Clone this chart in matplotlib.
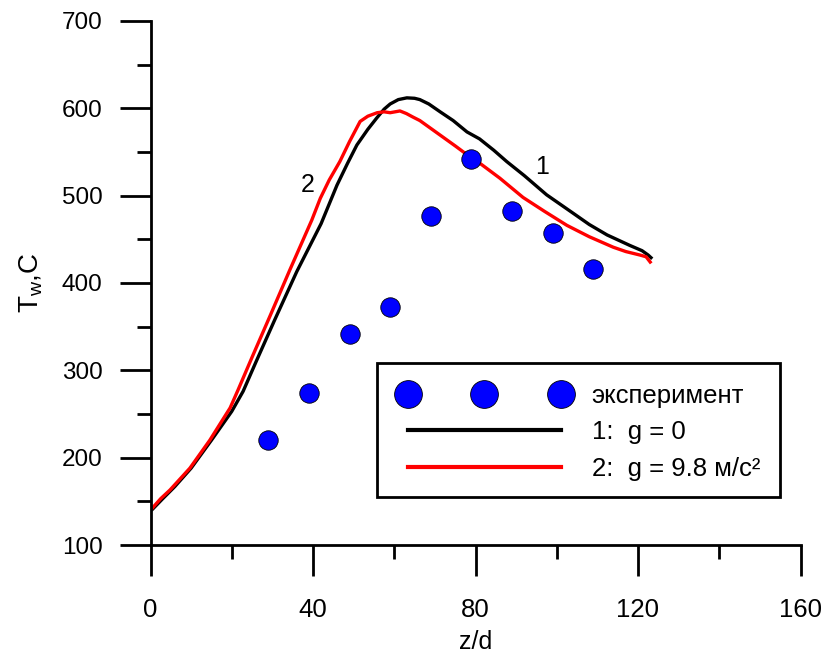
import matplotlib
matplotlib.use("Agg")
import matplotlib.pyplot as plt
from matplotlib.lines import Line2D
from matplotlib.patches import Rectangle

plt.rcParams.update({
    "font.family": ["Liberation Sans", "DejaVu Sans"],
    "font.size": 17,
    "mathtext.default": "regular",
})

# experiment
exp_x = [29, 39, 49, 59, 69, 79, 89, 99, 109]
exp_y = [220, 274, 342, 373, 477, 542, 483, 457, 416]

# curve 1: g = 0
g0_x = [0.5, 3, 6, 10, 15, 20, 22.8, 26, 30.5, 36, 42, 45.9, 48.5, 50.8, 53.5,
        55.7, 57.5, 59, 61, 63.1, 65, 66.3, 68.5, 71.3, 74.5, 77.9, 81, 84.5,
        87.7, 92, 97.5, 104, 108, 112.4, 118, 121, 122.5, 123.2]
g0_y = [141, 153, 167, 188, 220, 253, 276, 310, 357, 413, 468, 512, 537, 558, 576,
        589, 599, 605, 610, 612, 611.5, 610, 605, 596, 586, 573, 565, 552,
        539, 523, 501, 480, 467, 455, 443, 437, 432, 429]

# curve 2: g = 9.8
g9_x = [0.4, 2.5, 4.8, 9.7, 14.6, 19.6, 21.5, 25, 29.4, 34.3, 39.7, 41.8, 44,
        46.6, 49, 51.6, 53.5, 55.8, 57.5, 59, 61.4, 63, 64.6, 66.3, 69, 72,
        75, 77.9, 81.1, 86, 91.7, 97, 102.5, 108, 113.9, 117, 120.5, 122, 123]
g9_y = [142, 153, 163, 188, 220, 257, 277, 315, 362, 415, 472, 497, 518,
        539, 562, 585, 591, 595, 596, 595, 597, 594, 590, 586, 577, 567,
        557, 547, 537, 520, 498, 482, 466, 453, 441, 436, 432, 430, 424]

fig = plt.figure(figsize=(8.26, 6.55), dpi=100)
ax = fig.add_axes([150.5 / 826, 110 / 655, 650 / 826, 524 / 655])

ax.plot(g0_x, g0_y, color="black", lw=2.4)
ax.plot(g9_x, g9_y, color="#ff0000", lw=2.4)
ax.plot(exp_x, exp_y, "o", color="#0000ff", mec="black", mew=0.6, ms=14)

ax.text(96.4, 533, "1", ha="center", va="center", fontsize=18)
ax.text(38.8, 512, "2", ha="center", va="center", fontsize=18)

ax.set_xlim(0, 160)
ax.set_ylim(100, 700)
ax.set_xticks([0, 40, 80, 120, 160])
ax.set_xticks([20, 60, 100, 140], minor=True)
ax.set_yticks(range(100, 701, 100))
ax.set_yticks(range(150, 700, 100), minor=True)
ax.tick_params(which="major", length=22.5, width=2)
ax.tick_params(which="minor", length=10, width=2)
ax.tick_params(axis="x", pad=16, labelsize=18.5)
ax.tick_params(axis="y", pad=12, labelsize=17.5)
for s in ["top", "right"]:
    ax.spines[s].set_visible(False)
for s in ["left", "bottom"]:
    ax.spines[s].set_linewidth(2)

ax.set_xlabel("z/d", fontsize=18)
ax.set_ylabel("T$_w$,C", fontsize=20)
ax.xaxis.set_label_coords(0.5, -0.163)
ax.yaxis.set_label_coords(-0.163, 0.5)

# legend frame drawn by hand, legend itself without frame
ax.add_patch(Rectangle((0.3485, 0.0916), 0.62, 0.2557, transform=ax.transAxes,
                       fill=True, facecolor="white", edgecolor="black", lw=2, zorder=4))
handles = [
    Line2D([], [], ls="none", marker="o", color="#0000ff", mec="black", mew=0.6, ms=20),
    Line2D([], [], color="black", lw=3),
    Line2D([], [], color="#ff0000", lw=3),
]
labels = ["эксперимент", "1:  g = 0", "2:  g = 9.8 м/с²"]
leg = ax.legend(handles, labels, loc="upper left", bbox_to_anchor=(0.3843, 0.308),
                borderaxespad=0, borderpad=0, numpoints=3, handlelength=6.55,
                handletextpad=0.9, labelspacing=0.49, frameon=False, fontsize=18.5)
leg.set_zorder(5)

fig.savefig("out.png", dpi=100)
